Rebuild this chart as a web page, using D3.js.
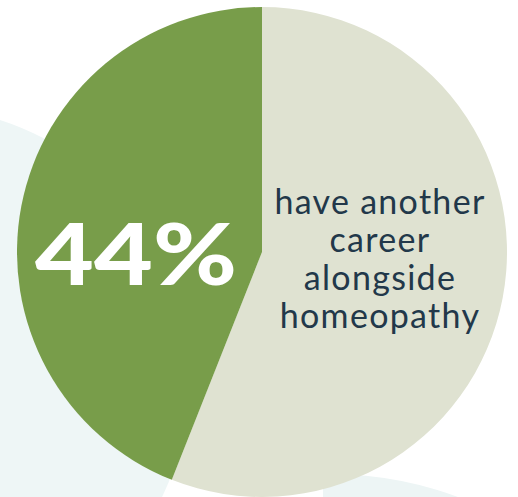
<!DOCTYPE html>
<meta charset="utf-8">
<style>
  body { margin: 0; background: #fff; }
  svg { display: block; }
</style>
<svg width="518" height="497"></svg>
<script src="https://d3js.org/d3.v7.min.js"></script>
<script>
// share of respondents
var labels = ["other", "another career"]
var values = [56, 44]
var colors = ["#dfe2d1", "#789d4a"]
var bigLabel = "44%"
var captionLines = ["have another", "career", "alongside", "homeopathy"]

var width = 518, height = 497
var svg = d3.select("svg")
var cx = 262, cy = 252, radius = 245

// pale decorative blobs behind the pie
var bg = svg.append("g")
bg.append("circle")
  .attr("cx", -83).attr("cy", 379).attr("r", 272)
  .attr("fill", "#eef6f6")
svg.append("clipPath").attr("id", "rightclip")
  .append("rect").attr("x", 323).attr("y", 0).attr("width", 300).attr("height", height)
bg.append("circle")
  .attr("clip-path", "url(#rightclip)")
  .attr("cx", 330).attr("cy", 841).attr("r", 367)
  .attr("fill", "#edf5f5")

var pie = d3.pie().sort(null).value(function (d) { return d })
var arc = d3.arc().innerRadius(0).outerRadius(radius)

var g = svg.append("g").attr("transform", "translate(" + cx + "," + cy + ")")
g.selectAll("path")
  .data(pie(values))
  .enter().append("path")
    .attr("d", arc)
    .attr("fill", function (d, i) { return colors[i] })

// big percentage on the green slice
svg.append("text")
  .attr("x", 35)
  .attr("y", 285)
  .attr("font-family", "Lato, sans-serif")
  .attr("font-weight", 900)
  .attr("font-size", 86)
  .attr("textLength", 202)
  .attr("lengthAdjust", "spacingAndGlyphs")
  .attr("fill", "#ffffff")
  .text(bigLabel)

// caption on the beige slice
svg.append("g").selectAll("text")
  .data(captionLines)
  .enter().append("text")
    .attr("x", 380)
    .attr("y", function (d, i) { return 214 + i * 38 })
    .attr("text-anchor", "middle")
    .attr("font-family", "Lato, sans-serif")
    .attr("font-size", 34)
    .attr("letter-spacing", 1.3)
    .attr("fill", "#22384a")
    .text(function (d) { return d })
</script>
